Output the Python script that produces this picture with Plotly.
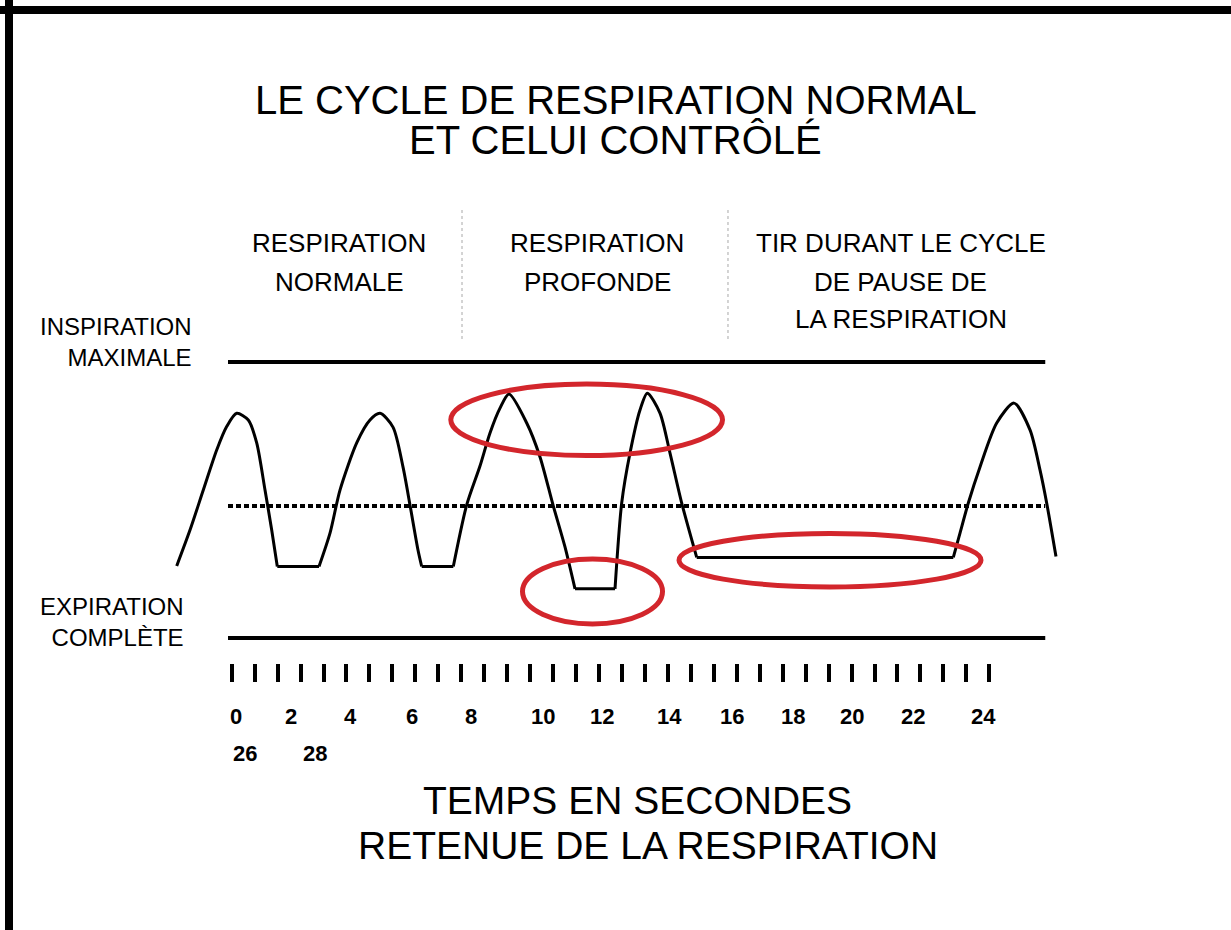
import plotly.graph_objects as go

W, H = 1231, 930
FONT = "Liberation Sans, Arial, sans-serif"

# Breathing trace: time in seconds vs lung volume (0 = complete expiration, 1 = maximal inspiration)
BREATH_1_T = [-1.905, -1.478, -1.051, -0.620, -0.299, 0.022, 0.395, 0.665, 0.932, 1.147, 1.327]
BREATH_1_V = [0.261, 0.391, 0.536, 0.681, 0.766, 0.814, 0.790, 0.707, 0.536, 0.391, 0.259]
PAUSE_1_T = [1.327, 2.667]
PAUSE_1_V = [0.259, 0.259]
BREATH_2_T = [2.667, 3.020, 3.341, 3.878, 4.305, 4.627, 5.044, 5.365, 5.590, 5.847, 5.966]
BREATH_2_V = [0.259, 0.380, 0.536, 0.707, 0.790, 0.814, 0.764, 0.620, 0.482, 0.319, 0.259]
PAUSE_2_T = [5.966, 6.982]
PAUSE_2_V = [0.259, 0.259]
DEEP_1_T = [6.982, 7.412, 7.839, 8.161, 8.482, 8.771, 9.340, 9.767, 10.185, 10.570, 10.892]
DEEP_1_V = [0.259, 0.482, 0.623, 0.743, 0.833, 0.884, 0.779, 0.656, 0.482, 0.330, 0.178]
DEEP_PAUSE_T = [10.892, 12.177]
DEEP_PAUSE_V = [0.178, 0.178]
DEEP_2_T = [12.177, 12.392, 12.659, 12.980, 13.215, 13.622, 13.944, 14.320, 14.802]
DEEP_2_V = [0.178, 0.489, 0.670, 0.826, 0.887, 0.815, 0.670, 0.489, 0.292]
HOLD_T = [14.802, 23.046]
HOLD_V = [0.292, 0.292]
FINAL_T = [23.046, 23.261, 23.528, 23.904, 24.440, 24.996, 25.510, 25.831, 26.046, 26.345]
FINAL_V = [0.292, 0.380, 0.489, 0.620, 0.779, 0.851, 0.754, 0.609, 0.489, 0.295]

SEGMENTS = [
    (BREATH_1_T, BREATH_1_V, "spline"),
    (PAUSE_1_T, PAUSE_1_V, "linear"),
    (BREATH_2_T, BREATH_2_V, "spline"),
    (PAUSE_2_T, PAUSE_2_V, "linear"),
    (DEEP_1_T, DEEP_1_V, "spline"),
    (DEEP_PAUSE_T, DEEP_PAUSE_V, "linear"),
    (DEEP_2_T, DEEP_2_V, "spline"),
    (HOLD_T, HOLD_V, "linear"),
    (FINAL_T, FINAL_V, "spline"),
]

# Reference levels and their horizontal extent (seconds)
LEVEL_MAX = 1.0
LEVEL_MIN = 0.0
LEVEL_MID = 0.478
LEVEL_SPAN = [-0.257, 26.0]

# Highlighted zones: (t0, t1, v0, v1)
HIGHLIGHTS = [
    (6.901, 15.631, 0.661, 0.920),
    (9.205, 13.703, 0.051, 0.286),
    (14.233, 23.936, 0.185, 0.379),
]

# Section boundaries (seconds)
SECTION_BOUNDS = [7.261, 15.807]

# Time scale tick marks (34 marks) and labels
N_TICKS = 34
TIME_LABELS = ["0", "2", "4", "6", "8", "10", "12", "14", "16", "18", "20", "22", "24", "26", "28"]
TIME_LABEL_POS = [0.0, 1.767, 3.663, 5.655, 7.55, 9.863, 11.76, 13.94, 15.94, 17.9, 19.79, 21.75, 24.0, 0.289, 2.538]
TIME_LABEL_ROW = [0] * 13 + [1, 1]

# Pixel-to-data layout constants
PX_PER_S = 31.125
X_ZERO_PX = 236.0
PX_PER_V = 276.0
Y_ZERO_PX = 638.0
x_range = [(0 - X_ZERO_PX) / PX_PER_S, (W - X_ZERO_PX) / PX_PER_S]
y_range = [(Y_ZERO_PX - H) / PX_PER_V, Y_ZERO_PX / PX_PER_V]

TICK_FIRST_PX = 231.7
TICK_STEP_PX = 22.958
tick_range = [(0 - TICK_FIRST_PX) / TICK_STEP_PX, (W - TICK_FIRST_PX) / TICK_STEP_PX]


def vy(py):
    return (Y_ZERO_PX - py) / PX_PER_V


def px(x):
    return x / W


def py(y):
    return 1 - y / H


fig = go.Figure()

# Reference levels
for lvl in (LEVEL_MAX, LEVEL_MIN):
    fig.add_trace(go.Scatter(x=LEVEL_SPAN, y=[lvl, lvl], mode="lines",
                             line=dict(color="black", width=4), hoverinfo="skip"))
fig.add_trace(go.Scatter(x=LEVEL_SPAN, y=[LEVEL_MID, LEVEL_MID], mode="lines",
                         line=dict(color="black", width=4, dash="5px,3px"), hoverinfo="skip"))

# Breathing curve
for t, v, shape in SEGMENTS:
    fig.add_trace(go.Scatter(x=t, y=v, mode="lines",
                             line=dict(color="black", width=3, shape=shape, smoothing=0.75),
                             hoverinfo="skip"))

# Carrier for the time-scale tick axis
fig.add_trace(go.Scatter(x=[None], y=[None], xaxis="x2", mode="lines", hoverinfo="skip"))

shapes = []
for t0, t1, v0, v1 in HIGHLIGHTS:
    shapes.append(dict(type="circle", xref="x", yref="y", x0=t0, x1=t1, y0=v0, y1=v1,
                       line=dict(color="#d3262c", width=5)))
for b in SECTION_BOUNDS:
    shapes.append(dict(type="line", xref="x", yref="y", x0=b, x1=b, y0=vy(210), y1=vy(342),
                       line=dict(color="#a8a8a8", width=1, dash="dot")))
# Frame bands (top and left)
shapes.append(dict(type="rect", xref="paper", yref="paper", x0=0, x1=1, y0=py(14), y1=py(6),
                   fillcolor="black", line=dict(width=0)))
shapes.append(dict(type="rect", xref="paper", yref="paper", x0=px(5), x1=px(13), y0=0, y1=1,
                   fillcolor="black", line=dict(width=0)))

annotations = []


def text(s, x, y, size, anchor="center", bold=False):
    annotations.append(dict(
        text=f"<b>{s}</b>" if bold else s, x=px(x), y=py(y), xref="paper", yref="paper",
        xanchor=anchor, yanchor="middle", align=anchor if anchor != "center" else "center",
        showarrow=False, font=dict(family=FONT, size=size, color="black")))


text("LE CYCLE DE RESPIRATION NORMAL", 616, 100, 40)
text("ET CELUI CONTRÔLÉ", 615, 140, 40)

text("RESPIRATION", 339, 243, 26)
text("NORMALE", 339, 282, 26)
text("RESPIRATION", 597, 243, 26)
text("PROFONDE", 597, 282, 26)
text("TIR DURANT LE CYCLE", 901, 243, 26)
text("DE PAUSE DE", 901, 282, 26)
text("LA RESPIRATION", 901, 319, 26)

text("INSPIRATION<br>MAXIMALE", 194, 342, 24, anchor="right")
text("EXPIRATION<br>COMPLÈTE", 186, 622, 24, anchor="right")

text("TEMPS EN SECONDES", 637, 800, 39)
text("RETENUE DE LA RESPIRATION", 648, 845, 39)

ROW_Y = [716, 753]
for lab, pos, row in zip(TIME_LABELS, TIME_LABEL_POS, TIME_LABEL_ROW):
    annotations.append(dict(
        text=f"<b>{lab}</b>", x=pos, y=vy(ROW_Y[row]), xref="x", yref="y",
        xanchor="center", yanchor="middle", showarrow=False,
        font=dict(family=FONT, size=22, color="black")))

fig.update_layout(
    width=W, height=H,
    margin=dict(l=0, r=0, t=0, b=0),
    paper_bgcolor="white", plot_bgcolor="white",
    showlegend=False,
    xaxis=dict(range=x_range, visible=False, fixedrange=True),
    yaxis=dict(range=y_range, visible=False, fixedrange=True),
    xaxis2=dict(range=tick_range, overlaying="x", anchor="free", position=py(663), side="bottom",
                tickmode="array", tickvals=list(range(N_TICKS)), ticks="outside",
                ticklen=18, tickwidth=4, tickcolor="black", showticklabels=False,
                showgrid=False, zeroline=False, showline=False, fixedrange=True),
    shapes=shapes,
    annotations=annotations,
)

fig.write_html("out.html")
